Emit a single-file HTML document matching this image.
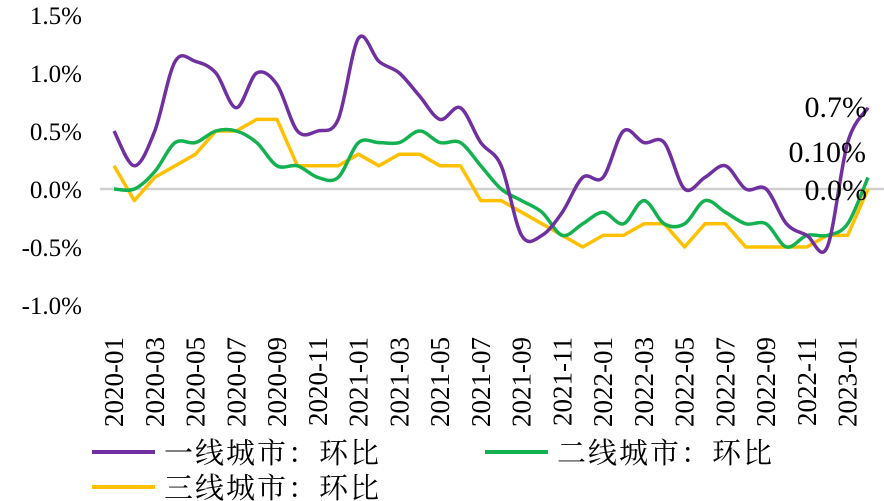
<!DOCTYPE html>
<html><head><meta charset="utf-8"><style>
body{margin:0;background:#fff;}
svg{display:block;font-family:"Liberation Serif","Noto Serif CJK SC",serif;}
</style></head><body>
<svg id="c" width="884" height="501"></svg>
<script>
const months=["2020-01","2020-02","2020-03","2020-04","2020-05","2020-06","2020-07","2020-08","2020-09","2020-10","2020-11","2020-12","2021-01","2021-02","2021-03","2021-04","2021-05","2021-06","2021-07","2021-08","2021-09","2021-10","2021-11","2021-12","2022-01","2022-02","2022-03","2022-04","2022-05","2022-06","2022-07","2022-08","2022-09","2022-10","2022-11","2022-12","2023-01","2023-02"];
const tier1=[0.5,0.2,0.5,1.1,1.1,1.0,0.7,1.0,0.9,0.5,0.5,0.6,1.3,1.1,1.0,0.8,0.6,0.7,0.4,0.2,-0.4,-0.4,-0.2,0.1,0.1,0.5,0.4,0.4,0.0,0.1,0.2,0.0,0.0,-0.3,-0.4,-0.5,0.4,0.7];
const tier2=[0,0,0.15,0.4,0.4,0.5,0.5,0.4,0.2,0.2,0.1,0.1,0.4,0.4,0.4,0.5,0.4,0.4,0.2,0.0,-0.1,-0.2,-0.4,-0.3,-0.2,-0.3,-0.1,-0.3,-0.3,-0.1,-0.2,-0.3,-0.3,-0.5,-0.4,-0.4,-0.3,0.1];
const tier3=[0.2,-0.1,0.1,0.2,0.3,0.5,0.5,0.6,0.6,0.2,0.2,0.2,0.3,0.2,0.3,0.3,0.2,0.2,-0.1,-0.1,-0.2,-0.3,-0.4,-0.5,-0.4,-0.4,-0.3,-0.3,-0.5,-0.3,-0.3,-0.5,-0.5,-0.5,-0.5,-0.4,-0.4,0.0];
const yTicks=[1.5,1.0,0.5,0.0,-0.5,-1.0];
const endLabels=["0.7%","0.10%","0.0%"];
const svg=document.getElementById('c');const NS="http://www.w3.org/2000/svg";
const x=i=>114+i*(868-114)/(months.length-1);
const y=v=>189-v*116;
function mk(t,a,p){const e=document.createElementNS(NS,t);for(const k in a)e.setAttribute(k,a[k]);(p||svg).appendChild(e);return e;}
yTicks.forEach(v=>{const t=mk('text',{x:82,y:y(v)+9,'text-anchor':'end','font-size':25,fill:'#000'});


t.textContent=v.toFixed(1)+'%';});
const zl=mk('line',{x1:100,x2:884,y1:y(0),y2:y(0),stroke:'#d0d0d0','stroke-width':2.5});


months.forEach((m,i)=>{if(i%2)return;const t=mk('text',{transform:`translate(${x(i)+9},337) rotate(-90)`,'text-anchor':'end','font-size':27,fill:'#000'});


t.textContent=m;});
function smooth(vals){const p=vals.map((v,i)=>[x(i),y(v)]);let d=`M${p[0][0]},${p[0][1]}`;
for(let i=0;i<p.length-1;i++){const p0=p[Math.max(0,i-1)],p1=p[i],p2=p[i+1],p3=p[Math.min(p.length-1,i+2)];
d+=` C${p1[0]+(p2[0]-p0[0])/6},${p1[1]+(p2[1]-p0[1])/6} ${p2[0]-(p3[0]-p1[0])/6},${p2[1]-(p3[1]-p1[1])/6} ${p2[0]},${p2[1]}`;}return d;}
function straight(vals){return vals.map((v,i)=>(i?'L':'M')+x(i)+','+y(v)).join(' ');}
const s3=mk('path',{d:straight(tier3),fill:'none',stroke:'#FFC000','stroke-width':3.5,'stroke-linejoin':'round'});


const s2=mk('path',{d:smooth(tier2),fill:'none',stroke:'#14B150','stroke-width':3.5});


const s1=mk('path',{d:smooth(tier1),fill:'none',stroke:'#7030A0','stroke-width':3.5});


[[867,117],[866,162],[867,200]].forEach((p,i)=>{const t=mk('text',{x:p[0],y:p[1],'text-anchor':'end','font-size':30,fill:'#000'});


t.textContent=endLabels[i];});
const leg=[["一线城市：环比","#7030A0",92,452],["二线城市：环比","#14B150",485,452],["三线城市：环比","#FFC000",92,487]];
leg.forEach(l=>{const g=mk('g',{});


mk('line',{x1:l[2],x2:l[2]+63,y1:l[3],y2:l[3],stroke:l[1],'stroke-width':4},g);
const t=mk('text',{x:l[2]+72,y:l[3]+11,'font-size':29,'letter-spacing':2,fill:'#000'},g);t.textContent=l[0];});
</script>
</body></html>
